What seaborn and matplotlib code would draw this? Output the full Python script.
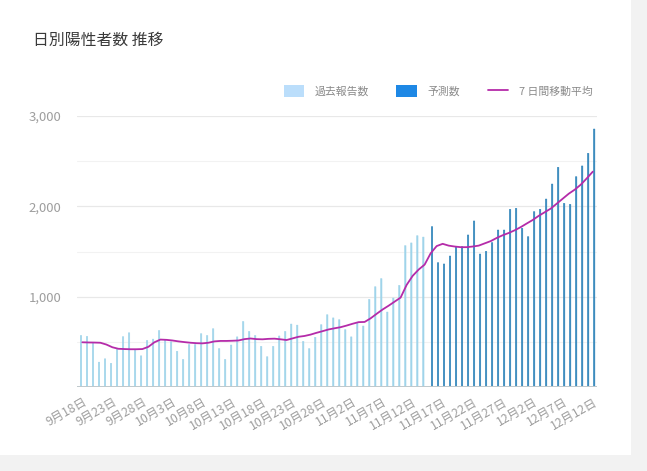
import seaborn as sns
import matplotlib.pyplot as plt
import matplotlib.patches as mpatches
from matplotlib.lines import Line2D
from matplotlib.ticker import FuncFormatter, MultipleLocator
import pandas as pd

# daily counts, Sep 18 .. Nov 14 (reported) and Nov 15 .. Dec 12 (forecast)
past = [570, 560, 490, 275, 312, 262, 417, 557, 600, 417,
        345, 515, 530, 625, 520, 500, 395, 305, 470, 470,
        590, 570, 645, 425, 305, 465, 555, 725, 615, 570,
        450, 335, 450, 565, 615, 697, 685, 505, 425, 550,
        690, 800, 765, 745, 635, 555, 710, 675, 970, 1110,
        1200, 830, 985, 1125, 1565, 1595, 1675, 1660]
forecast = [1775, 1376, 1362, 1450, 1553, 1553, 1683, 1838, 1472, 1502,
            1598, 1738, 1738, 1967, 1978, 1757, 1664, 1941, 1967, 2081,
            2247, 2432, 2033, 2022, 2328, 2447, 2587, 2856]
# 7-day moving average as drawn
avg7 = [495, 493, 492, 490, 470, 440, 423, 420, 418, 418,
        420, 445, 495, 525, 522, 515, 505, 497, 490, 485,
        483, 490, 505, 510, 510, 512, 515, 530, 537, 530,
        528, 533, 535, 528, 520, 538, 556, 565, 580, 600,
        618, 637, 650, 662, 680, 700, 718, 720, 760, 810,
        858, 900, 945, 990, 1130, 1230, 1300, 1355, 1480, 1560,
        1585, 1565, 1555, 1548, 1548, 1555, 1565, 1590, 1615, 1650,
        1680, 1705, 1735, 1770, 1810, 1849, 1895, 1935, 1975, 2030,
        2085, 2140, 2185, 2240, 2310, 2384]
tick_labels = ["9月18日", "9月23日", "9月28日", "10月3日", "10月8日", "10月13日",
               "10月18日", "10月23日", "10月28日", "11月2日", "11月7日", "11月12日",
               "11月17日", "11月22日", "11月27日", "12月2日", "12月7日", "12月12日"]

n_days = len(past) + len(forecast)
df = pd.DataFrame({
    "day": list(range(n_days)),
    "count": past + forecast,
    "kind": ["過去報告数"] * len(past) + ["予測数"] * len(forecast),
})

sns.set_style("white")
plt.rcParams['font.family'] = ['Noto Sans CJK JP', 'DejaVu Sans']

W, H = 647, 471
fig = plt.figure(figsize=(W / 100, H / 100), dpi=100, facecolor="#f2f2f2")
card = mpatches.Rectangle((0, 16 / H), 631 / W, 1 - 16 / H, transform=fig.transFigure,
                          facecolor="white", edgecolor="none", zorder=-5)
fig.patches.append(card)

ax = fig.add_axes([77 / W, 1 - 387 / H, 520 / W, 271 / H])
ax.set_zorder(2)
ax.set_facecolor("none")

past_c = "#9fd4ea"
fc_c = "#2f84ba"
line_c = "#b52ba9"

sns.barplot(data=df, x="day", y="count", hue="kind",
            hue_order=["過去報告数", "予測数"],
            palette={"過去報告数": past_c, "予測数": fc_c},
            width=0.9, gap=0.45, dodge=True, saturation=1,
            legend=False, ax=ax, zorder=2)
# thin bars: same-colour edge, no pixel snapping so every bar looks alike
for p in ax.patches:
    p.set_edgecolor(p.get_facecolor())
    p.set_linewidth(0.35)
    p.set_snap(False)
sns.lineplot(x=df["day"], y=avg7, color=line_c, lw=1.3, ax=ax, zorder=3)

ax.set_xlim(-0.89, 85.7)
ax.set_ylim(0, 3000)
ax.set_xlabel("")
ax.set_ylabel("")

ax.yaxis.set_major_locator(MultipleLocator(1000))
ax.yaxis.set_minor_locator(MultipleLocator(500))
ax.yaxis.set_major_formatter(FuncFormatter(lambda v, p: "" if v == 0 else f"{int(v):,}"))
ax.grid(axis="y", which="major", color="#e8e8e8", lw=0.9, zorder=0)
ax.grid(axis="y", which="minor", color="#f2f2f2", lw=0.8, zorder=0)
ax.grid(axis="x", visible=False)
ax.set_axisbelow(True)
ax.axhline(0, color="#bfc8cc", lw=1.4, zorder=4)
for s in ax.spines.values():
    s.set_visible(False)

ax.set_xticks(list(range(0, n_days, 5)))
ax.set_xticklabels(tick_labels, rotation=30, ha="right", rotation_mode="anchor",
                   fontsize=8.8, color="#9e9e9e")
ax.tick_params(axis="x", length=0, pad=6)
ax.tick_params(axis="y", which="both", length=0, pad=11, labelsize=9.5, labelcolor="#9e9e9e")

fig.text(33 / W, 1 - 40 / H, "日別陽性者数 推移", fontsize=11.4, color="#3a3a3a", va="center")

handles = [mpatches.Patch(facecolor="#bbdefb", edgecolor="none"),
           mpatches.Patch(facecolor="#1e88e5", edgecolor="none"),
           Line2D([0], [0], color=line_c, lw=1.3)]
ax.legend(handles, ["過去報告数", "予測数", "7 日間移動平均"], ncol=3, frameon=False,
          loc="center right", bbox_to_anchor=(1.0, (387 - 91) / 271),
          fontsize=7.8, labelcolor="#8a8a8a", handlelength=1.9, handleheight=1.25,
          handletextpad=1.0, columnspacing=2.5, borderaxespad=0)

fig.savefig("out.png", dpi=100, facecolor=fig.get_facecolor())
